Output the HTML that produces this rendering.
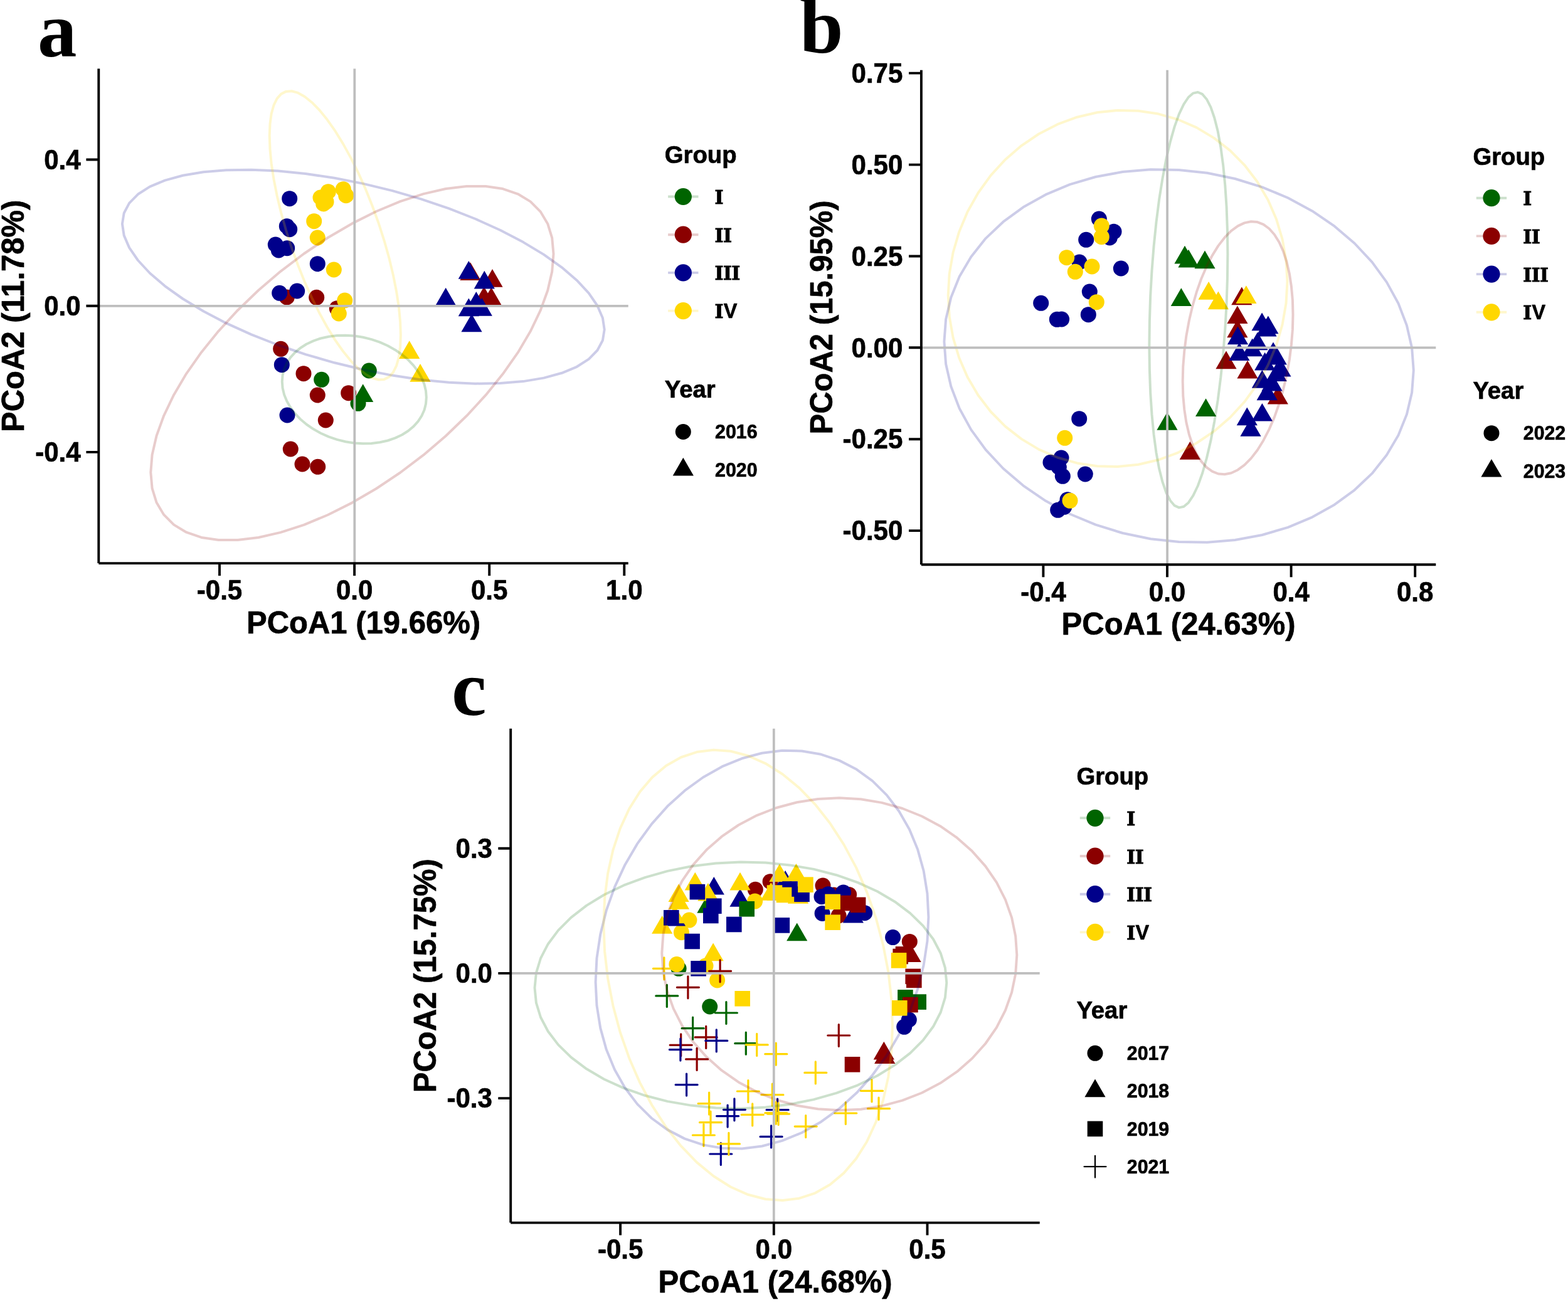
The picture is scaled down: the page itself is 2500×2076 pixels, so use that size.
<!DOCTYPE html>
<html lang="en">
<head>
<meta charset="utf-8">
<title>PCoA ordination by group and year</title>
<style>
html,body{margin:0;padding:0;background:#fff;}
body{width:2500px;height:2076px;overflow:hidden;}
svg{display:block;}
.sa{font-family:"Liberation Sans",Arial,Helvetica,sans-serif;font-weight:700;fill:#000;stroke:#000;stroke-width:0.7px;stroke-linejoin:round;}
.sl{font-family:"DejaVu Serif",Georgia,serif;font-weight:700;fill:#000;stroke:#000;stroke-width:0.9px;}
.se{font-family:"Liberation Serif","Times New Roman",Times,serif;font-weight:700;fill:#000;}
</style>
</head>
<body>
<svg xmlns="http://www.w3.org/2000/svg" width="2500" height="2076" viewBox="0 0 2500 2076">
<rect width="2500" height="2076" fill="#fff"/>
<g>
<circle cx="512.7" cy="605.3" r="12.5" fill="#006400"/>
<circle cx="588.3" cy="591" r="12.5" fill="#006400"/>
<circle cx="571" cy="643.3" r="12.5" fill="#006400"/>
<circle cx="457.3" cy="474" r="12.5" fill="#8B0000"/>
<circle cx="504.7" cy="474.3" r="12.5" fill="#8B0000"/>
<circle cx="537.3" cy="491.7" r="12.5" fill="#8B0000"/>
<circle cx="447.7" cy="556.3" r="12.5" fill="#8B0000"/>
<circle cx="484" cy="595.7" r="12.5" fill="#8B0000"/>
<circle cx="506.3" cy="630" r="12.5" fill="#8B0000"/>
<circle cx="555.7" cy="626.7" r="12.5" fill="#8B0000"/>
<circle cx="519.3" cy="670" r="12.5" fill="#8B0000"/>
<circle cx="463.3" cy="716" r="12.5" fill="#8B0000"/>
<circle cx="482" cy="740" r="12.5" fill="#8B0000"/>
<circle cx="506.7" cy="744.3" r="12.5" fill="#8B0000"/>
<circle cx="461.7" cy="316.7" r="12.5" fill="#00008B"/>
<circle cx="457.3" cy="360.7" r="12.5" fill="#00008B"/>
<circle cx="461.7" cy="365.7" r="12.5" fill="#00008B"/>
<circle cx="439.3" cy="390" r="12.5" fill="#00008B"/>
<circle cx="444.3" cy="399" r="12.5" fill="#00008B"/>
<circle cx="457.7" cy="395.7" r="12.5" fill="#00008B"/>
<circle cx="506.3" cy="420.7" r="12.5" fill="#00008B"/>
<circle cx="445.7" cy="467.3" r="12.5" fill="#00008B"/>
<circle cx="473.7" cy="464" r="12.5" fill="#00008B"/>
<circle cx="449.3" cy="581.7" r="12.5" fill="#00008B"/>
<circle cx="458" cy="662" r="12.5" fill="#00008B"/>
<circle cx="511" cy="315" r="12.5" fill="#FFD700"/>
<circle cx="523.3" cy="305.7" r="12.5" fill="#FFD700"/>
<circle cx="515.7" cy="325" r="12.5" fill="#FFD700"/>
<circle cx="520" cy="321.7" r="12.5" fill="#FFD700"/>
<circle cx="547.3" cy="301.7" r="12.5" fill="#FFD700"/>
<circle cx="551.7" cy="311.7" r="12.5" fill="#FFD700"/>
<circle cx="500.7" cy="352.7" r="12.5" fill="#FFD700"/>
<circle cx="506.3" cy="379" r="12.5" fill="#FFD700"/>
<circle cx="532.3" cy="430" r="12.5" fill="#FFD700"/>
<circle cx="549.7" cy="479" r="12.5" fill="#FFD700"/>
<circle cx="540.3" cy="500" r="12.5" fill="#FFD700"/>
<polygon points="578.7,612.3 562.1,641 595.3,641" fill="#006400"/>
<polygon points="750,418.3 733.4,447 766.6,447" fill="#8B0000"/>
<polygon points="785,429 768.4,457.7 801.6,457.7" fill="#8B0000"/>
<polygon points="771.7,457 755.1,485.7 788.3,485.7" fill="#8B0000"/>
<polygon points="783.3,458.3 766.7,487 799.9,487" fill="#8B0000"/>
<polygon points="747.3,416 730.7,444.7 763.9,444.7" fill="#00008B"/>
<polygon points="772.3,431.7 755.7,460.4 788.9,460.4" fill="#00008B"/>
<polygon points="710.7,458.7 694.1,487.4 727.3,487.4" fill="#00008B"/>
<polygon points="759.3,465 742.7,493.7 775.9,493.7" fill="#00008B"/>
<polygon points="747.3,475.5 730.7,504.2 763.9,504.2" fill="#00008B"/>
<polygon points="768.3,475 751.7,503.7 784.9,503.7" fill="#00008B"/>
<polygon points="752,500.5 735.4,529.2 768.6,529.2" fill="#00008B"/>
<polygon points="652.7,543.3 636.1,572 669.3,572" fill="#FFD700"/>
<polygon points="670,580 653.4,608.7 686.6,608.7" fill="#FFD700"/>
<polygon points="963.7,525.5 960.9,542.7 952.5,558.5 938.7,572.6 919.7,584.8 895.7,594.8 867,602.6 834.2,608.1 797.7,611.1 757.9,611.7 715.6,609.8 671.3,605.4 625.6,598.6 579.3,589.5 533,578.3 487.3,565.1 443,550 400.7,533.4 360.9,515.4 324.4,496.3 291.6,476.5 262.9,456.1 238.9,435.5 219.9,415 206.1,394.9 197.7,375.4 194.9,356.9 197.7,339.7 206.1,323.9 219.9,309.8 238.9,297.6 262.9,287.6 291.6,279.8 324.4,274.3 360.9,271.3 400.7,270.7 443,272.6 487.3,277 533,283.8 579.3,292.9 625.6,304.1 671.3,317.3 715.6,332.4 757.9,349 797.7,367 834.2,386.1 867,405.9 895.7,426.3 919.7,446.9 938.7,467.4 952.5,487.5 960.9,507" fill="none" stroke="#00008B" stroke-opacity="0.2" stroke-width="4.0" stroke-linejoin="round"/>
<polygon points="638.9,534.3 638.1,553.2 635.9,569.6 632.1,583.1 626.9,593.6 620.4,600.9 612.6,604.9 603.7,605.5 593.7,602.9 582.9,596.8 571.4,587.6 559.3,575.3 546.9,560 534.3,542.1 521.7,521.7 509.3,499.2 497.2,474.9 485.7,449.2 474.9,422.3 464.9,394.8 456,367 448.2,339.3 441.7,312.2 436.5,285.9 432.7,261 430.5,237.7 429.7,216.5 430.5,197.6 432.7,181.2 436.5,167.7 441.7,157.2 448.2,149.9 456,145.9 464.9,145.3 474.9,147.9 485.7,154 497.2,163.2 509.3,175.5 521.7,190.8 534.3,208.7 546.9,229.1 559.3,251.6 571.4,275.9 582.9,301.6 593.7,328.5 603.7,356 612.6,383.8 620.4,411.5 626.9,438.6 632.1,464.9 635.9,489.8 638.1,513.1" fill="none" stroke="#FFD700" stroke-opacity="0.2" stroke-width="4.0" stroke-linejoin="round"/>
<polygon points="882.5,404.9 880.2,433 873.2,463.3 861.6,495.2 845.7,528.3 825.7,562.2 801.7,596.3 774.3,630.2 743.8,663.3 710.6,695.2 675.3,725.4 638.2,753.5 600.1,779 561.4,801.6 522.7,821 484.6,836.8 447.5,848.9 412.2,857 379,861.1 348.5,861.1 321.1,856.9 297.1,848.7 277.1,836.6 261.2,820.7 249.6,801.3 242.6,778.6 240.3,753.1 242.6,725 249.6,694.7 261.2,662.8 277.1,629.7 297.1,595.8 321.1,561.7 348.5,527.8 379,494.7 412.2,462.8 447.5,432.6 484.6,404.5 522.7,379 561.4,356.4 600.1,337 638.2,321.2 675.3,309.1 710.6,301 743.8,296.9 774.3,296.9 801.7,301.1 825.7,309.3 845.7,321.4 861.6,337.3 873.2,356.7 880.2,379.4" fill="none" stroke="#8B0000" stroke-opacity="0.2" stroke-width="4.0" stroke-linejoin="round"/>
<polygon points="679.8,633.6 679,643.8 676.5,653.7 672.3,663.1 666.6,671.8 659.4,679.9 650.9,687 641.1,693.3 630.1,698.4 618.2,702.5 605.6,705.3 592.3,706.9 578.7,707.3 564.8,706.4 550.9,704.2 537.3,700.9 524,696.4 511.4,690.7 499.5,684.1 488.5,676.5 478.7,668.2 470.2,659.1 463,649.5 457.3,639.5 453.1,629.2 450.6,618.8 449.8,608.4 450.6,598.2 453.1,588.3 457.3,578.9 463,570.2 470.2,562.1 478.7,555 488.5,548.7 499.5,543.6 511.4,539.5 524,536.7 537.3,535.1 550.9,534.7 564.8,535.6 578.7,537.8 592.3,541.1 605.6,545.6 618.2,551.3 630.1,557.9 641.1,565.5 650.9,573.8 659.4,582.9 666.6,592.5 672.3,602.5 676.5,612.8 679,623.2" fill="none" stroke="#006400" stroke-opacity="0.2" stroke-width="4.0" stroke-linejoin="round"/>
<path d="M157.3 487.8H1001.7M565.3 109.5V898.1" stroke="#BEBEBE" stroke-width="3.8" fill="none"/>
<path d="M157.3 109.5V898.1M157.3 898.1H1001.7" stroke="#000" stroke-width="3.9" fill="none" stroke-linecap="butt"/>
<path d="M350 898.1v19.9M565.1 898.1v19.9M780.2 898.1v19.9M995.3 898.1v19.9M157.3 254.5h-19.9M157.3 487.8h-19.9M157.3 720.9h-19.9" stroke="#000" stroke-width="3.9" fill="none"/>
<text class="sa" transform="translate(350 956) scale(1 1.05)" font-size="42" text-anchor="middle">-0.5</text>
<text class="sa" transform="translate(565.1 956) scale(1 1.05)" font-size="42" text-anchor="middle">0.0</text>
<text class="sa" transform="translate(780.2 956) scale(1 1.05)" font-size="42" text-anchor="middle">0.5</text>
<text class="sa" transform="translate(995.3 956) scale(1 1.05)" font-size="42" text-anchor="middle">1.0</text>
<text class="sa" transform="translate(128.6 269.7) scale(1 1.05)" font-size="42" text-anchor="end">0.4</text>
<text class="sa" transform="translate(128.6 503) scale(1 1.05)" font-size="42" text-anchor="end">0.0</text>
<text class="sa" transform="translate(128.6 736.1) scale(1 1.05)" font-size="42" text-anchor="end">-0.4</text>
<text class="sa" transform="translate(579.5 1009.5) scale(1 1.015)" font-size="49" text-anchor="middle">PCoA1 (19.66%)</text>
<text class="sa" transform="translate(38.3 503.8) rotate(-90) scale(1 1.015)" font-size="49" text-anchor="middle">PCoA2 (11.78%)</text>
<text class="se" transform="translate(60 90)" font-size="125" text-anchor="start">a</text>
<text class="sa" transform="translate(1059.7 260) scale(1 1.015)" font-size="38.3" text-anchor="start">Group</text>
<path d="M1065.1 313.5H1113.5" stroke="#006400" stroke-opacity="0.2" stroke-width="3.9"/>
<circle cx="1089.3" cy="313.5" r="13.6" fill="#006400"/>
<text transform="translate(1139.6 325)" text-anchor="start"><tspan class="sl" font-size="29.9" letter-spacing="-0.6">I</tspan></text>
<path d="M1065.1 374.2H1113.5" stroke="#8B0000" stroke-opacity="0.2" stroke-width="3.9"/>
<circle cx="1089.3" cy="374.2" r="13.6" fill="#8B0000"/>
<text transform="translate(1139.6 385.7)" text-anchor="start"><tspan class="sl" font-size="29.9" letter-spacing="-0.6">II</tspan></text>
<path d="M1065.1 434.9H1113.5" stroke="#00008B" stroke-opacity="0.2" stroke-width="3.9"/>
<circle cx="1089.3" cy="434.9" r="13.6" fill="#00008B"/>
<text transform="translate(1139.6 446.4)" text-anchor="start"><tspan class="sl" font-size="29.9" letter-spacing="-0.6">III</tspan></text>
<path d="M1065.1 495.6H1113.5" stroke="#FFD700" stroke-opacity="0.2" stroke-width="3.9"/>
<circle cx="1089.3" cy="495.6" r="13.6" fill="#FFD700"/>
<text transform="translate(1139.6 507.1)" text-anchor="start"><tspan class="sl" font-size="29.9" letter-spacing="-0.6">I</tspan><tspan class="sa" font-size="32.5" x="14.1">V</tspan></text>
<text class="sa" transform="translate(1059.7 633.5) scale(1 1.015)" font-size="38.3" text-anchor="start">Year</text>
<circle cx="1089.3" cy="688.5" r="12.5" fill="#000"/>
<text class="sa" transform="translate(1140.1 699.2) scale(1 1.015)" font-size="30.3" text-anchor="start">2016</text>
<polygon points="1089.3,729.7 1072.7,758.4 1105.9,758.4" fill="#000"/>
<text class="sa" transform="translate(1140.1 759.5) scale(1 1.015)" font-size="30.3" text-anchor="start">2020</text>
</g>
<g>
<circle cx="1752.3" cy="349" r="12.5" fill="#00008B"/>
<circle cx="1776" cy="369.3" r="12.5" fill="#00008B"/>
<circle cx="1769.3" cy="379" r="12.5" fill="#00008B"/>
<circle cx="1731.7" cy="382.3" r="12.5" fill="#00008B"/>
<circle cx="1721" cy="418" r="12.5" fill="#00008B"/>
<circle cx="1787.3" cy="428" r="12.5" fill="#00008B"/>
<circle cx="1737.3" cy="465" r="12.5" fill="#00008B"/>
<circle cx="1659.7" cy="483.3" r="12.5" fill="#00008B"/>
<circle cx="1685.3" cy="509.3" r="12.5" fill="#00008B"/>
<circle cx="1692.6" cy="509" r="12.5" fill="#00008B"/>
<circle cx="1735.3" cy="501.7" r="12.5" fill="#00008B"/>
<circle cx="1720.7" cy="667.7" r="12.5" fill="#00008B"/>
<circle cx="1692" cy="730" r="12.5" fill="#00008B"/>
<circle cx="1675" cy="737.3" r="12.5" fill="#00008B"/>
<circle cx="1688.3" cy="745" r="12.5" fill="#00008B"/>
<circle cx="1694.3" cy="759.3" r="12.5" fill="#00008B"/>
<circle cx="1730.3" cy="756" r="12.5" fill="#00008B"/>
<circle cx="1702" cy="796.7" r="12.5" fill="#00008B"/>
<circle cx="1696.7" cy="808.3" r="12.5" fill="#00008B"/>
<circle cx="1686.7" cy="813.3" r="12.5" fill="#00008B"/>
<circle cx="1756.3" cy="360" r="12.5" fill="#FFD700"/>
<circle cx="1756.3" cy="377.7" r="12.5" fill="#FFD700"/>
<circle cx="1700.7" cy="410.7" r="12.5" fill="#FFD700"/>
<circle cx="1741" cy="425" r="12.5" fill="#FFD700"/>
<circle cx="1714.3" cy="433.3" r="12.5" fill="#FFD700"/>
<circle cx="1748.3" cy="481.7" r="12.5" fill="#FFD700"/>
<circle cx="1697.7" cy="698.3" r="12.5" fill="#FFD700"/>
<circle cx="1706" cy="798.3" r="12.5" fill="#FFD700"/>
<polygon points="1889,391.7 1872.4,420.4 1905.6,420.4" fill="#006400"/>
<polygon points="1895,397.7 1878.4,426.4 1911.6,426.4" fill="#006400"/>
<polygon points="1921,399.5 1904.4,428.2 1937.6,428.2" fill="#006400"/>
<polygon points="1883.3,459.3 1866.7,488 1899.9,488" fill="#006400"/>
<polygon points="1861,657 1844.4,685.7 1877.6,685.7" fill="#006400"/>
<polygon points="1922.6,635.2 1906,663.9 1939.2,663.9" fill="#006400"/>
<polygon points="1979.8,457.6 1963.2,486.3 1996.4,486.3" fill="#8B0000"/>
<polygon points="1972.9,487.4 1956.3,516.1 1989.5,516.1" fill="#8B0000"/>
<polygon points="1972.9,509.5 1956.3,538.2 1989.5,538.2" fill="#8B0000"/>
<polygon points="1955,559.5 1938.4,588.2 1971.6,588.2" fill="#8B0000"/>
<polygon points="1989,574.8 1972.4,603.5 2005.6,603.5" fill="#8B0000"/>
<polygon points="2037.3,615.7 2020.7,644.4 2053.9,644.4" fill="#8B0000"/>
<polygon points="1897.3,704 1880.7,732.7 1913.9,732.7" fill="#8B0000"/>
<polygon points="1973.5,520.5 1956.9,549.2 1990.1,549.2" fill="#00008B"/>
<polygon points="2012.1,498.6 1995.5,527.3 2028.7,527.3" fill="#00008B"/>
<polygon points="2019,507.8 2002.4,536.5 2035.6,536.5" fill="#00008B"/>
<polygon points="2021.9,503.5 2005.3,532.2 2038.5,532.2" fill="#00008B"/>
<polygon points="2005,529.5 1988.4,558.2 2021.6,558.2" fill="#00008B"/>
<polygon points="1996.7,539.5 1980.1,568.2 2013.3,568.2" fill="#00008B"/>
<polygon points="1975.9,546.2 1959.3,574.9 1992.5,574.9" fill="#00008B"/>
<polygon points="2030,545.4 2013.4,574.1 2046.6,574.1" fill="#00008B"/>
<polygon points="2016.7,561.8 2000.1,590.5 2033.3,590.5" fill="#00008B"/>
<polygon points="2035.2,552.8 2018.6,581.5 2051.8,581.5" fill="#00008B"/>
<polygon points="2041.9,571.9 2025.3,600.6 2058.5,600.6" fill="#00008B"/>
<polygon points="2035.2,579.2 2018.6,607.9 2051.8,607.9" fill="#00008B"/>
<polygon points="2012.4,590 1995.8,618.7 2029,618.7" fill="#00008B"/>
<polygon points="2028.1,594.7 2011.5,623.4 2044.7,623.4" fill="#00008B"/>
<polygon points="2020.2,609.5 2003.6,638.2 2036.8,638.2" fill="#00008B"/>
<polygon points="2012.4,642.9 1995.8,671.6 2029,671.6" fill="#00008B"/>
<polygon points="1988.3,649.5 1971.7,678.2 2004.9,678.2" fill="#00008B"/>
<polygon points="1994,667.1 1977.4,695.8 2010.6,695.8" fill="#00008B"/>
<polygon points="1927.1,449 1910.5,477.7 1943.7,477.7" fill="#FFD700"/>
<polygon points="1942.4,464.6 1925.8,493.3 1959,493.3" fill="#FFD700"/>
<polygon points="1986.9,455.2 1970.3,483.9 2003.5,483.9" fill="#FFD700"/>
<polygon points="2052.5,449.2 2050.5,483.5 2044.6,517.5 2034.9,550.6 2021.5,582.5 2004.6,612.5 1984.5,640.3 1961.4,665.5 1935.7,687.7 1907.8,706.5 1878,721.8 1846.8,733.3 1814.7,740.7 1782.1,744.1 1749.5,743.3 1717.4,738.4 1686.2,729.5 1656.4,716.6 1628.5,699.9 1602.8,679.8 1579.7,656.5 1559.6,630.3 1542.7,601.6 1529.3,570.8 1519.6,538.5 1513.7,505 1511.7,470.8 1513.7,436.5 1519.6,402.5 1529.3,369.4 1542.7,337.5 1559.6,307.5 1579.7,279.7 1602.8,254.5 1628.5,232.3 1656.4,213.5 1686.2,198.2 1717.4,186.7 1749.5,179.3 1782.1,175.9 1814.7,176.7 1846.8,181.6 1878,190.5 1907.8,203.4 1935.7,220.1 1961.4,240.2 1984.5,263.5 2004.6,289.7 2021.5,318.4 2034.9,349.2 2044.6,381.5 2050.5,415" fill="none" stroke="#FFD700" stroke-opacity="0.2" stroke-width="4.0" stroke-linejoin="round"/>
<polygon points="2253.8,590.4 2251.1,626 2242.9,660.7 2229.5,694.1 2210.9,725.6 2187.6,754.9 2159.7,781.3 2127.7,804.7 2092.2,824.6 2053.5,840.8 2012.3,853 1969.2,861 1924.7,864.7 1879.6,864.1 1834.5,859.2 1790,850 1746.9,836.7 1705.7,819.5 1667,798.6 1631.5,774.3 1599.5,747 1571.6,717.1 1548.3,685.1 1529.7,651.3 1516.3,616.2 1508.1,580.5 1505.4,544.6 1508.1,509 1516.3,474.3 1529.7,440.9 1548.3,409.4 1571.6,380.1 1599.5,353.7 1631.5,330.3 1667,310.4 1705.7,294.2 1746.9,282 1790,274 1834.5,270.3 1879.6,270.9 1924.7,275.8 1969.2,285 2012.3,298.3 2053.5,315.5 2092.2,336.4 2127.7,360.7 2159.7,388 2187.6,417.9 2210.9,449.9 2229.5,483.7 2242.9,518.8 2251.1,554.5" fill="none" stroke="#00008B" stroke-opacity="0.2" stroke-width="4.0" stroke-linejoin="round"/>
<polygon points="1957.4,405.3 1956.9,444.8 1955.6,484.8 1953.3,524.7 1950.2,563.9 1946.3,601.8 1941.7,638 1936.3,671.8 1930.4,702.8 1923.9,730.5 1917.1,754.5 1909.9,774.5 1902.4,790.2 1894.9,801.4 1887.4,807.8 1879.9,809.4 1872.7,806.2 1865.9,798.2 1859.4,785.6 1853.5,768.4 1848.1,747.1 1843.5,721.8 1839.6,692.9 1836.5,661 1834.2,626.3 1832.9,589.5 1832.4,551.1 1832.9,511.6 1834.2,471.6 1836.5,431.7 1839.6,392.5 1843.5,354.6 1848.1,318.4 1853.5,284.6 1859.4,253.6 1865.9,225.9 1872.7,201.9 1879.9,181.9 1887.4,166.2 1894.9,155 1902.4,148.6 1909.9,147 1917.1,150.2 1923.9,158.2 1930.4,170.8 1936.3,188 1941.7,209.3 1946.3,234.6 1950.2,263.5 1953.3,295.4 1955.6,330.1 1956.9,366.9" fill="none" stroke="#006400" stroke-opacity="0.2" stroke-width="4.0" stroke-linejoin="round"/>
<polygon points="2061.5,501.6 2060.9,525.4 2058.9,549.7 2055.8,574 2051.4,598 2045.9,621.5 2039.4,643.9 2031.9,665.1 2023.5,684.6 2014.4,702.2 2004.8,717.7 1994.6,730.9 1984.2,741.4 1973.6,749.2 1963,754.2 1952.6,756.3 1942.4,755.5 1932.8,751.7 1923.7,745.1 1915.3,735.6 1907.8,723.6 1901.3,709.1 1895.8,692.3 1891.4,673.5 1888.3,653 1886.3,631.1 1885.7,608 1886.3,584.2 1888.3,559.9 1891.4,535.6 1895.8,511.6 1901.3,488.1 1907.8,465.7 1915.3,444.5 1923.7,425 1932.8,407.4 1942.4,391.9 1952.6,378.7 1963,368.2 1973.6,360.4 1984.2,355.4 1994.6,353.3 2004.8,354.1 2014.4,357.9 2023.5,364.5 2031.9,374 2039.4,386 2045.9,400.5 2051.4,417.3 2055.8,436.1 2058.9,456.6 2060.9,478.5" fill="none" stroke="#8B0000" stroke-opacity="0.2" stroke-width="4.0" stroke-linejoin="round"/>
<path d="M1468.9 554.3H2289.3M1861.1 111.7V900.3" stroke="#BEBEBE" stroke-width="3.8" fill="none"/>
<path d="M1468.9 111.7V900.3M1468.9 900.3H2289.3" stroke="#000" stroke-width="3.9" fill="none" stroke-linecap="butt"/>
<path d="M1663.4 900.3v19.9M1861 900.3v19.9M2058.6 900.3v19.9M2256.2 900.3v19.9M1468.9 116.6h-19.9M1468.9 262.6h-19.9M1468.9 408.5h-19.9M1468.9 554.3h-19.9M1468.9 700.2h-19.9M1468.9 846.1h-19.9" stroke="#000" stroke-width="3.9" fill="none"/>
<text class="sa" transform="translate(1663.4 958.6) scale(1 1.05)" font-size="42" text-anchor="middle">-0.4</text>
<text class="sa" transform="translate(1861 958.6) scale(1 1.05)" font-size="42" text-anchor="middle">0.0</text>
<text class="sa" transform="translate(2058.6 958.6) scale(1 1.05)" font-size="42" text-anchor="middle">0.4</text>
<text class="sa" transform="translate(2256.2 958.6) scale(1 1.05)" font-size="42" text-anchor="middle">0.8</text>
<text class="sa" transform="translate(1439.3 131.8) scale(1 1.05)" font-size="42" text-anchor="end">0.75</text>
<text class="sa" transform="translate(1439.3 277.8) scale(1 1.05)" font-size="42" text-anchor="end">0.50</text>
<text class="sa" transform="translate(1439.3 423.7) scale(1 1.05)" font-size="42" text-anchor="end">0.25</text>
<text class="sa" transform="translate(1439.3 569.5) scale(1 1.05)" font-size="42" text-anchor="end">0.00</text>
<text class="sa" transform="translate(1439.3 715.4) scale(1 1.05)" font-size="42" text-anchor="end">-0.25</text>
<text class="sa" transform="translate(1439.3 861.3) scale(1 1.05)" font-size="42" text-anchor="end">-0.50</text>
<text class="sa" transform="translate(1879.1 1011.7) scale(1 1.015)" font-size="49" text-anchor="middle">PCoA1 (24.63%)</text>
<text class="sa" transform="translate(1326.7 506) rotate(-90) scale(1 1.015)" font-size="49" text-anchor="middle">PCoA2 (15.95%)</text>
<text class="se" transform="translate(1275 83.5)" font-size="125" text-anchor="start">b</text>
<text class="sa" transform="translate(2348.4 262.5) scale(1 1.015)" font-size="38.3" text-anchor="start">Group</text>
<path d="M2353.8 315.7H2402.2" stroke="#006400" stroke-opacity="0.2" stroke-width="3.9"/>
<circle cx="2378" cy="315.7" r="13.6" fill="#006400"/>
<text transform="translate(2428.3 327.2)" text-anchor="start"><tspan class="sl" font-size="29.9" letter-spacing="-0.6">I</tspan></text>
<path d="M2353.8 376.4H2402.2" stroke="#8B0000" stroke-opacity="0.2" stroke-width="3.9"/>
<circle cx="2378" cy="376.4" r="13.6" fill="#8B0000"/>
<text transform="translate(2428.3 387.9)" text-anchor="start"><tspan class="sl" font-size="29.9" letter-spacing="-0.6">II</tspan></text>
<path d="M2353.8 437.1H2402.2" stroke="#00008B" stroke-opacity="0.2" stroke-width="3.9"/>
<circle cx="2378" cy="437.1" r="13.6" fill="#00008B"/>
<text transform="translate(2428.3 448.6)" text-anchor="start"><tspan class="sl" font-size="29.9" letter-spacing="-0.6">III</tspan></text>
<path d="M2353.8 497.8H2402.2" stroke="#FFD700" stroke-opacity="0.2" stroke-width="3.9"/>
<circle cx="2378" cy="497.8" r="13.6" fill="#FFD700"/>
<text transform="translate(2428.3 509.3)" text-anchor="start"><tspan class="sl" font-size="29.9" letter-spacing="-0.6">I</tspan><tspan class="sa" font-size="32.5" x="14.1">V</tspan></text>
<text class="sa" transform="translate(2348.4 635.5) scale(1 1.015)" font-size="38.3" text-anchor="start">Year</text>
<circle cx="2378" cy="690.7" r="12.5" fill="#000"/>
<text class="sa" transform="translate(2428.8 701.4) scale(1 1.015)" font-size="30.3" text-anchor="start">2022</text>
<polygon points="2378,731.9 2361.4,760.6 2394.6,760.6" fill="#000"/>
<text class="sa" transform="translate(2428.8 761.7) scale(1 1.015)" font-size="30.3" text-anchor="start">2023</text>
</g>
<g>
<circle cx="1082.1" cy="1544.3" r="12.5" fill="#006400"/>
<circle cx="1131.7" cy="1605" r="12.5" fill="#006400"/>
<circle cx="1204.3" cy="1418.3" r="12.5" fill="#8B0000"/>
<circle cx="1228.1" cy="1405.7" r="12.5" fill="#8B0000"/>
<circle cx="1312" cy="1412.1" r="12.5" fill="#8B0000"/>
<circle cx="1353.6" cy="1426.4" r="12.5" fill="#8B0000"/>
<circle cx="1337.1" cy="1460" r="12.5" fill="#8B0000"/>
<circle cx="1450.3" cy="1501.4" r="12.5" fill="#8B0000"/>
<circle cx="1329.3" cy="1427" r="12.5" fill="#8B0000"/>
<circle cx="1310" cy="1429.7" r="12.5" fill="#00008B"/>
<circle cx="1320.7" cy="1425.7" r="12.5" fill="#00008B"/>
<circle cx="1344.6" cy="1422.9" r="12.5" fill="#00008B"/>
<circle cx="1311.1" cy="1456.4" r="12.5" fill="#00008B"/>
<circle cx="1378.6" cy="1455.7" r="12.5" fill="#00008B"/>
<circle cx="1423.6" cy="1494.6" r="12.5" fill="#00008B"/>
<circle cx="1449.3" cy="1626" r="12.5" fill="#00008B"/>
<circle cx="1441.7" cy="1637.3" r="12.5" fill="#00008B"/>
<circle cx="1098.9" cy="1467.1" r="12.5" fill="#FFD700"/>
<circle cx="1086.4" cy="1486.7" r="12.5" fill="#FFD700"/>
<circle cx="1078.9" cy="1537.6" r="12.5" fill="#FFD700"/>
<circle cx="1125" cy="1540" r="12.5" fill="#FFD700"/>
<circle cx="1143.6" cy="1562.9" r="12.5" fill="#FFD700"/>
<circle cx="1203.6" cy="1437.1" r="12.5" fill="#FFD700"/>
<polygon points="1127.9,1427 1111.3,1455.7 1144.5,1455.7" fill="#006400"/>
<polygon points="1270.7,1471.6 1254.1,1500.3 1287.3,1500.3" fill="#006400"/>
<polygon points="1452.1,1505.4 1435.5,1534.1 1468.7,1534.1" fill="#8B0000"/>
<polygon points="1409.3,1660.7 1392.7,1689.4 1425.9,1689.4" fill="#8B0000"/>
<polygon points="1410.7,1667.3 1394.1,1696 1427.3,1696" fill="#8B0000"/>
<polygon points="1138.3,1397.9 1121.7,1426.6 1154.9,1426.6" fill="#00008B"/>
<polygon points="1180,1417.1 1163.4,1445.8 1196.6,1445.8" fill="#00008B"/>
<polygon points="1252.1,1387.9 1235.5,1416.6 1268.7,1416.6" fill="#00008B"/>
<polygon points="1076.4,1447.9 1059.8,1476.6 1093,1476.6" fill="#00008B"/>
<polygon points="1360.3,1442.9 1343.7,1471.6 1376.9,1471.6" fill="#00008B"/>
<polygon points="1108.3,1390.7 1091.7,1419.4 1124.9,1419.4" fill="#FFD700"/>
<polygon points="1082.1,1409.3 1065.5,1438 1098.7,1438" fill="#FFD700"/>
<polygon points="1082.4,1421.1 1065.8,1449.8 1099,1449.8" fill="#FFD700"/>
<polygon points="1055.7,1460 1039.1,1488.7 1072.3,1488.7" fill="#FFD700"/>
<polygon points="1128.9,1407.9 1112.3,1436.6 1145.5,1436.6" fill="#FFD700"/>
<polygon points="1180,1390.7 1163.4,1419.4 1196.6,1419.4" fill="#FFD700"/>
<polygon points="1137.1,1503.6 1120.5,1532.3 1153.7,1532.3" fill="#FFD700"/>
<polygon points="1242.9,1377.4 1226.3,1406.1 1259.5,1406.1" fill="#FFD700"/>
<polygon points="1269.4,1376.9 1252.8,1405.6 1286,1405.6" fill="#FFD700"/>
<polygon points="1229.3,1407.1 1212.7,1435.8 1245.9,1435.8" fill="#FFD700"/>
<polygon points="1272.5,1412.1 1255.9,1440.8 1289.1,1440.8" fill="#FFD700"/>
<polygon points="1075.8,1443.6 1059.2,1472.3 1092.4,1472.3" fill="#FFD700"/>
<rect x="1178.4" y="1437" width="24.6" height="24.6" fill="#006400"/>
<rect x="1431.1" y="1578.1" width="24.6" height="24.6" fill="#006400"/>
<rect x="1452.4" y="1585.3" width="24.6" height="24.6" fill="#006400"/>
<rect x="1339.1" y="1427.7" width="24.6" height="24.6" fill="#8B0000"/>
<rect x="1355.8" y="1430.6" width="24.6" height="24.6" fill="#8B0000"/>
<rect x="1423.4" y="1512.7" width="24.6" height="24.6" fill="#8B0000"/>
<rect x="1427.7" y="1509.1" width="24.6" height="24.6" fill="#8B0000"/>
<rect x="1443.4" y="1544.6" width="24.6" height="24.6" fill="#8B0000"/>
<rect x="1445" y="1550.6" width="24.6" height="24.6" fill="#8B0000"/>
<rect x="1439.1" y="1589.8" width="24.6" height="24.6" fill="#8B0000"/>
<rect x="1346.7" y="1685" width="24.6" height="24.6" fill="#8B0000"/>
<rect x="1099.6" y="1409.8" width="24.6" height="24.6" fill="#00008B"/>
<rect x="1126" y="1432.4" width="24.6" height="24.6" fill="#00008B"/>
<rect x="1121" y="1447.7" width="24.6" height="24.6" fill="#00008B"/>
<rect x="1058" y="1451" width="24.6" height="24.6" fill="#00008B"/>
<rect x="1158" y="1461.7" width="24.6" height="24.6" fill="#00008B"/>
<rect x="1091.3" y="1488.7" width="24.6" height="24.6" fill="#00008B"/>
<rect x="1101.3" y="1532" width="24.6" height="24.6" fill="#00008B"/>
<rect x="1234.5" y="1463.1" width="24.6" height="24.6" fill="#00008B"/>
<rect x="1266.2" y="1413.5" width="24.6" height="24.6" fill="#00008B"/>
<rect x="1247.2" y="1405.2" width="24.6" height="24.6" fill="#00008B"/>
<rect x="1222.7" y="1411.3" width="24.6" height="24.6" fill="#FFD700"/>
<rect x="1237.7" y="1414.7" width="24.6" height="24.6" fill="#FFD700"/>
<rect x="1272.1" y="1398.4" width="24.6" height="24.6" fill="#FFD700"/>
<rect x="1171.4" y="1580" width="24.6" height="24.6" fill="#FFD700"/>
<rect x="1315.3" y="1425.6" width="24.6" height="24.6" fill="#FFD700"/>
<rect x="1315.3" y="1458.4" width="24.6" height="24.6" fill="#FFD700"/>
<rect x="1420.8" y="1519.1" width="24.6" height="24.6" fill="#FFD700"/>
<rect x="1422" y="1595" width="24.6" height="24.6" fill="#FFD700"/>
<path d="M1045.8 1587.9H1080.8M1063.3 1570.4V1605.4" stroke="#006400" stroke-width="3.2" stroke-linecap="round" fill="none"/>
<path d="M1140.4 1615H1175.4M1157.9 1597.5V1632.5" stroke="#006400" stroke-width="3.2" stroke-linecap="round" fill="none"/>
<path d="M1087.1 1639.7H1122.1M1104.6 1622.2V1657.2" stroke="#006400" stroke-width="3.2" stroke-linecap="round" fill="none"/>
<path d="M1171.8 1663.7H1206.8M1189.3 1646.2V1681.2" stroke="#006400" stroke-width="3.2" stroke-linecap="round" fill="none"/>
<path d="M1130.6 1548.3H1165.6M1148.1 1530.8V1565.8" stroke="#8B0000" stroke-width="3.2" stroke-linecap="round" fill="none"/>
<path d="M1079.4 1574.3H1114.4M1096.9 1556.8V1591.8" stroke="#8B0000" stroke-width="3.2" stroke-linecap="round" fill="none"/>
<path d="M1108.2 1653.9H1143.2M1125.7 1636.4V1671.4" stroke="#8B0000" stroke-width="3.2" stroke-linecap="round" fill="none"/>
<path d="M1068.2 1666.3H1103.2M1085.7 1648.8V1683.8" stroke="#8B0000" stroke-width="3.2" stroke-linecap="round" fill="none"/>
<path d="M1093.6 1688.9H1128.6M1111.1 1671.4V1706.4" stroke="#8B0000" stroke-width="3.2" stroke-linecap="round" fill="none"/>
<path d="M1319.8 1651H1354.8M1337.3 1633.5V1668.5" stroke="#8B0000" stroke-width="3.2" stroke-linecap="round" fill="none"/>
<path d="M1124.8 1659.4H1159.8M1142.3 1641.9V1676.9" stroke="#00008B" stroke-width="3.2" stroke-linecap="round" fill="none"/>
<path d="M1067.4 1673.6H1102.4M1084.9 1656.1V1691.1" stroke="#00008B" stroke-width="3.2" stroke-linecap="round" fill="none"/>
<path d="M1077.1 1729.6H1112.1M1094.6 1712.1V1747.1" stroke="#00008B" stroke-width="3.2" stroke-linecap="round" fill="none"/>
<path d="M1153.4 1769.3H1188.4M1170.9 1751.8V1786.8" stroke="#00008B" stroke-width="3.2" stroke-linecap="round" fill="none"/>
<path d="M1142.6 1779.6H1177.6M1160.1 1762.1V1797.1" stroke="#00008B" stroke-width="3.2" stroke-linecap="round" fill="none"/>
<path d="M1222.1 1769.7H1257.1M1239.6 1752.2V1787.2" stroke="#00008B" stroke-width="3.2" stroke-linecap="round" fill="none"/>
<path d="M1212.1 1812.4H1247.1M1229.6 1794.9V1829.9" stroke="#00008B" stroke-width="3.2" stroke-linecap="round" fill="none"/>
<path d="M1131.8 1840H1166.8M1149.3 1822.5V1857.5" stroke="#00008B" stroke-width="3.2" stroke-linecap="round" fill="none"/>
<path d="M1041.4 1544.3H1076.4M1058.9 1526.8V1561.8" stroke="#FFD700" stroke-width="3.2" stroke-linecap="round" fill="none"/>
<path d="M1189.2 1665.9H1224.2M1206.7 1648.4V1683.4" stroke="#FFD700" stroke-width="3.2" stroke-linecap="round" fill="none"/>
<path d="M1219.8 1680.7H1254.8M1237.3 1663.2V1698.2" stroke="#FFD700" stroke-width="3.2" stroke-linecap="round" fill="none"/>
<path d="M1282.8 1710.4H1317.8M1300.3 1692.9V1727.9" stroke="#FFD700" stroke-width="3.2" stroke-linecap="round" fill="none"/>
<path d="M1175.4 1740H1210.4M1192.9 1722.5V1757.5" stroke="#FFD700" stroke-width="3.2" stroke-linecap="round" fill="none"/>
<path d="M1213.9 1745.7H1248.9M1231.4 1728.2V1763.2" stroke="#FFD700" stroke-width="3.2" stroke-linecap="round" fill="none"/>
<path d="M1113.1 1759.6H1148.1M1130.6 1742.1V1777.1" stroke="#FFD700" stroke-width="3.2" stroke-linecap="round" fill="none"/>
<path d="M1182.2 1777.4H1217.2M1199.7 1759.9V1794.9" stroke="#FFD700" stroke-width="3.2" stroke-linecap="round" fill="none"/>
<path d="M1219.8 1774.7H1254.8M1237.3 1757.2V1792.2" stroke="#FFD700" stroke-width="3.2" stroke-linecap="round" fill="none"/>
<path d="M1223.6 1776.1H1258.6M1241.1 1758.6V1793.6" stroke="#FFD700" stroke-width="3.2" stroke-linecap="round" fill="none"/>
<path d="M1115.5 1789.7H1150.5M1133 1772.2V1807.2" stroke="#FFD700" stroke-width="3.2" stroke-linecap="round" fill="none"/>
<path d="M1267.2 1796.1H1302.2M1284.7 1778.6V1813.6" stroke="#FFD700" stroke-width="3.2" stroke-linecap="round" fill="none"/>
<path d="M1104.4 1810H1139.4M1121.9 1792.5V1827.5" stroke="#FFD700" stroke-width="3.2" stroke-linecap="round" fill="none"/>
<path d="M1144.4 1823.9H1179.4M1161.9 1806.4V1841.4" stroke="#FFD700" stroke-width="3.2" stroke-linecap="round" fill="none"/>
<path d="M1372.5 1739.3H1407.5M1390 1721.8V1756.8" stroke="#FFD700" stroke-width="3.2" stroke-linecap="round" fill="none"/>
<path d="M1383.5 1767.7H1418.5M1401 1750.2V1785.2" stroke="#FFD700" stroke-width="3.2" stroke-linecap="round" fill="none"/>
<path d="M1330.8 1775H1365.8M1348.3 1757.5V1792.5" stroke="#FFD700" stroke-width="3.2" stroke-linecap="round" fill="none"/>
<polygon points="1509.3,1566.9 1506.9,1590.6 1499.8,1614 1488,1636.8 1471.7,1658.6 1451.2,1679.1 1426.7,1698.1 1398.7,1715.2 1367.5,1730.3 1333.5,1742.9 1297.4,1753.1 1259.5,1760.7 1220.5,1765.4 1180.9,1767.4 1141.3,1766.4 1102.3,1762.6 1064.4,1756.1 1028.3,1746.8 994.3,1734.9 963.1,1720.7 935.1,1704.3 910.6,1685.9 890.1,1665.9 873.8,1644.5 862,1622 854.9,1598.8 852.5,1575.1 854.9,1551.4 862,1528 873.8,1505.2 890.1,1483.4 910.6,1462.9 935.1,1443.9 963.1,1426.8 994.3,1411.7 1028.3,1399.1 1064.4,1388.9 1102.3,1381.3 1141.3,1376.6 1180.9,1374.6 1220.5,1375.6 1259.5,1379.4 1297.4,1385.9 1333.5,1395.2 1367.5,1407.1 1398.7,1421.3 1426.7,1437.7 1451.2,1456.1 1471.7,1476.1 1488,1497.5 1499.8,1520 1506.9,1543.2" fill="none" stroke="#006400" stroke-opacity="0.2" stroke-width="4.0" stroke-linejoin="round"/>
<polygon points="1480.4,1462.3 1478.5,1500.5 1472.7,1538.8 1463.2,1576.8 1450,1613.9 1433.4,1649.5 1413.7,1683.1 1391,1714.3 1365.8,1742.6 1338.3,1767.5 1309.1,1788.7 1278.5,1806 1247,1818.9 1215,1827.5 1183,1831.4 1151.5,1830.7 1120.9,1825.4 1091.7,1815.6 1064.2,1801.4 1039,1783 1016.3,1760.6 996.6,1734.7 980,1705.6 966.8,1673.6 957.3,1639.4 951.5,1603.3 949.6,1565.9 951.5,1527.7 957.3,1489.4 966.8,1451.4 980,1414.3 996.6,1378.7 1016.3,1345.1 1039,1313.9 1064.2,1285.6 1091.7,1260.7 1120.9,1239.5 1151.5,1222.2 1183,1209.3 1215,1200.7 1247,1196.8 1278.5,1197.5 1309.1,1202.8 1338.3,1212.6 1365.8,1226.8 1391,1245.2 1413.7,1267.6 1433.4,1293.5 1450,1322.6 1463.2,1354.6 1472.7,1388.8 1478.5,1424.9" fill="none" stroke="#00008B" stroke-opacity="0.2" stroke-width="4.0" stroke-linejoin="round"/>
<polygon points="1423,1635.7 1421.3,1677.3 1416.3,1717.1 1408,1754.5 1396.6,1789 1382.2,1820.2 1365.1,1847.4 1345.4,1870.4 1323.5,1888.8 1299.7,1902.3 1274.4,1910.7 1247.8,1914 1220.5,1912 1192.7,1904.8 1164.9,1892.5 1137.6,1875.3 1111,1853.4 1085.7,1827.2 1061.9,1797 1040,1763.2 1020.3,1726.4 1003.2,1687.2 988.8,1646 977.4,1603.4 969.1,1560.2 964.1,1516.9 962.4,1474.1 964.1,1432.5 969.1,1392.7 977.4,1355.3 988.8,1320.8 1003.2,1289.6 1020.3,1262.4 1040,1239.4 1061.9,1221 1085.7,1207.5 1111,1199.1 1137.6,1195.8 1164.9,1197.8 1192.7,1205 1220.5,1217.3 1247.8,1234.5 1274.4,1256.4 1299.7,1282.6 1323.5,1312.8 1345.4,1346.6 1365.1,1383.4 1382.2,1422.6 1396.6,1463.8 1408,1506.4 1416.3,1549.6 1421.3,1592.9" fill="none" stroke="#FFD700" stroke-opacity="0.2" stroke-width="4.0" stroke-linejoin="round"/>
<polygon points="1621.3,1522.8 1619.2,1552.8 1613.1,1582.3 1602.9,1611 1588.9,1638.3 1571.2,1664 1550.1,1687.5 1526,1708.7 1499.1,1727.1 1469.8,1742.5 1438.7,1754.6 1406,1763.4 1372.4,1768.7 1338.3,1770.3 1304.2,1768.3 1270.6,1762.7 1237.9,1753.6 1206.8,1741.1 1177.5,1725.4 1150.6,1706.7 1126.5,1685.3 1105.4,1661.5 1087.7,1635.7 1073.7,1608.2 1063.5,1579.4 1057.4,1549.8 1055.3,1519.8 1057.4,1489.8 1063.5,1460.3 1073.7,1431.6 1087.7,1404.3 1105.4,1378.6 1126.5,1355.1 1150.6,1333.9 1177.5,1315.5 1206.8,1300.1 1237.9,1288 1270.6,1279.2 1304.2,1273.9 1338.3,1272.3 1372.4,1274.3 1406,1279.9 1438.7,1289 1469.8,1301.5 1499.1,1317.2 1526,1335.9 1550.1,1357.3 1571.2,1381.1 1588.9,1406.9 1602.9,1434.4 1613.1,1463.2 1619.2,1492.8" fill="none" stroke="#8B0000" stroke-opacity="0.2" stroke-width="4.0" stroke-linejoin="round"/>
<path d="M814.2 1551.9H1657.7M1233.8 1161.7V1949.6" stroke="#BEBEBE" stroke-width="3.8" fill="none"/>
<path d="M814.2 1161.7V1949.6M814.2 1949.6H1657.7" stroke="#000" stroke-width="3.9" fill="none" stroke-linecap="butt"/>
<path d="M989.1 1949.6v19.9M1233.8 1949.6v19.9M1478.5 1949.6v19.9M814.2 1352.7h-19.9M814.2 1551.9h-19.9M814.2 1751.1h-19.9" stroke="#000" stroke-width="3.9" fill="none"/>
<text class="sa" transform="translate(989.1 2007) scale(1 1.05)" font-size="42" text-anchor="middle">-0.5</text>
<text class="sa" transform="translate(1233.8 2007) scale(1 1.05)" font-size="42" text-anchor="middle">0.0</text>
<text class="sa" transform="translate(1478.5 2007) scale(1 1.05)" font-size="42" text-anchor="middle">0.5</text>
<text class="sa" transform="translate(784.9 1367.9) scale(1 1.05)" font-size="42" text-anchor="end">0.3</text>
<text class="sa" transform="translate(784.9 1567.1) scale(1 1.05)" font-size="42" text-anchor="end">0.0</text>
<text class="sa" transform="translate(784.9 1766.3) scale(1 1.05)" font-size="42" text-anchor="end">-0.3</text>
<text class="sa" transform="translate(1236 2060.8) scale(1 1.015)" font-size="49" text-anchor="middle">PCoA1 (24.68%)</text>
<text class="sa" transform="translate(695 1555.7) rotate(-90) scale(1 1.015)" font-size="49" text-anchor="middle">PCoA2 (15.75%)</text>
<text class="se" transform="translate(720 1139.5)" font-size="125" text-anchor="start">c</text>
<text class="sa" transform="translate(1716.4 1251) scale(1 1.015)" font-size="38.3" text-anchor="start">Group</text>
<path d="M1721.8 1304.3H1770.2" stroke="#006400" stroke-opacity="0.2" stroke-width="3.9"/>
<circle cx="1746" cy="1304.3" r="13.6" fill="#006400"/>
<text transform="translate(1796.3 1315.8)" text-anchor="start"><tspan class="sl" font-size="29.9" letter-spacing="-0.6">I</tspan></text>
<path d="M1721.8 1365H1770.2" stroke="#8B0000" stroke-opacity="0.2" stroke-width="3.9"/>
<circle cx="1746" cy="1365" r="13.6" fill="#8B0000"/>
<text transform="translate(1796.3 1376.5)" text-anchor="start"><tspan class="sl" font-size="29.9" letter-spacing="-0.6">II</tspan></text>
<path d="M1721.8 1425.7H1770.2" stroke="#00008B" stroke-opacity="0.2" stroke-width="3.9"/>
<circle cx="1746" cy="1425.7" r="13.6" fill="#00008B"/>
<text transform="translate(1796.3 1437.2)" text-anchor="start"><tspan class="sl" font-size="29.9" letter-spacing="-0.6">III</tspan></text>
<path d="M1721.8 1486.4H1770.2" stroke="#FFD700" stroke-opacity="0.2" stroke-width="3.9"/>
<circle cx="1746" cy="1486.4" r="13.6" fill="#FFD700"/>
<text transform="translate(1796.3 1497.9)" text-anchor="start"><tspan class="sl" font-size="29.9" letter-spacing="-0.6">I</tspan><tspan class="sa" font-size="32.5" x="14.1">V</tspan></text>
<text class="sa" transform="translate(1716.4 1624.3) scale(1 1.015)" font-size="38.3" text-anchor="start">Year</text>
<circle cx="1746" cy="1679.3" r="12.5" fill="#000"/>
<text class="sa" transform="translate(1796.8 1690) scale(1 1.015)" font-size="30.3" text-anchor="start">2017</text>
<polygon points="1746,1720.5 1729.4,1749.2 1762.6,1749.2" fill="#000"/>
<text class="sa" transform="translate(1796.8 1750.3) scale(1 1.015)" font-size="30.3" text-anchor="start">2018</text>
<rect x="1733.7" y="1787.6" width="24.6" height="24.6" fill="#000"/>
<text class="sa" transform="translate(1796.8 1810.6) scale(1 1.015)" font-size="30.3" text-anchor="start">2019</text>
<path d="M1728.6 1860.2H1763.4M1746 1842.8V1877.6" stroke="#000" stroke-width="2.3" stroke-linecap="round" fill="none"/>
<text class="sa" transform="translate(1796.8 1870.9) scale(1 1.015)" font-size="30.3" text-anchor="start">2021</text>
</g>
</svg>
</body>
</html>
